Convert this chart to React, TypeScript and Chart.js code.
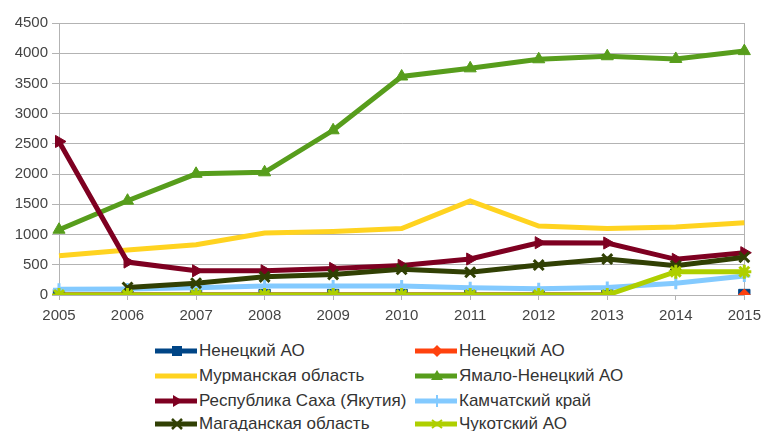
import React, { useEffect, useRef } from "react";
import { Chart, registerables } from "chart.js";

Chart.register(...registerables);

const years = ["2005", "2006", "2007", "2008", "2009", "2010", "2011", "2012", "2013", "2014", "2015"];
const yTicks = [0, 500, 1000, 1500, 2000, 2500, 3000, 3500, 4000, 4500];

const nenetsky = [0, 0, 0, 0, 0, 0, 0, 0, 0, null, 0];
const nenetsky2 = [0, 0, 0, 0, 0, 0, 0, 0, 0, null, 0];
const murmansk = [650, 745, 830, 1025, 1050, 1100, 1555, 1140, 1100, 1125, 1195];
const yamal = [1080, 1560, 2005, 2030, 2725, 3615, 3750, 3900, 3950, 3905, 4035];
const sakha = [2540, 545, 400, 400, 440, 490, 595, 865, 860, 590, 700];
const kamchatka = [95, 100, 120, 150, 150, 150, 120, 105, 125, 195, 315];
const magadan = [null, 125, 195, 300, 340, 425, 375, 495, 595, 485, 625];
const chukotka = [0, 0, 0, 0, 0, 0, 0, 0, 0, 385, 385];

const names = [
  "Ненецкий АО",
  "Ненецкий АО",
  "Мурманская область",
  "Ямало-Ненецкий АО",
  "Республика Саха (Якутия)",
  "Камчатский край",
  "Магаданская область",
  "Чукотский АО",
];
const colors = ["#004586", "#ff420e", "#ffd320", "#579d1c", "#7e0021", "#83caff", "#314004", "#aecf00"];
const seriesData = [nenetsky, nenetsky2, murmansk, yamal, sakha, kamchatka, magadan, chukotka];
const styles: any[] = ["rect", "rectRot", false, "triangle", "triangle", "cross", "crossRot", "star"];
const rotations = [0, 0, 0, 0, 90, 0, 0, 0];
const radii = [8, 4, 0, 7, 7, 6, 7, 7];

function Marker({ i }: { i: number }) {
  const c = colors[i];
  const cx = 22, cy = 7;
  switch (i) {
    case 0:
      return <rect x={cx - 5} y={cy - 5} width={10} height={10} fill={c} />;
    case 1:
      return <polygon points={`${cx},${cy - 6} ${cx + 6},${cy} ${cx},${cy + 6} ${cx - 6},${cy}`} fill={c} />;
    case 3:
      return <polygon points={`${cx},${cy - 6} ${cx + 6},${cy + 4} ${cx - 6},${cy + 4}`} fill={c} />;
    case 4:
      return <polygon points={`${cx + 6},${cy} ${cx - 4},${cy - 6} ${cx - 4},${cy + 6}`} fill={c} />;
    case 5:
      return <path d={`M${cx} ${cy - 6} V${cy + 6}`} stroke={c} strokeWidth={2} />;
    case 6:
      return <path d={`M${cx - 5} ${cy - 5} L${cx + 5} ${cy + 5} M${cx + 5} ${cy - 5} L${cx - 5} ${cy + 5}`} stroke={c} strokeWidth={2.5} />;
    case 7:
      return <path d={`M${cx - 5} ${cy - 4} L${cx + 5} ${cy + 4} M${cx + 5} ${cy - 4} L${cx - 5} ${cy + 4}`} stroke={c} strokeWidth={2} />;
    default:
      return null;
  }
}

export default function App() {
  const ref = useRef<HTMLCanvasElement | null>(null);

  useEffect(() => {
    document.body.style.margin = "0";
    const gray = "#b3b3b3";
    const chart = new Chart(ref.current as HTMLCanvasElement, {
      type: "line",
      data: {
        labels: years,
        datasets: seriesData.map((d, i) => ({
          label: names[i],
          data: d,
          borderColor: colors[i],
          backgroundColor: colors[i],
          borderWidth: 5,
          pointStyle: styles[i],
          pointRadius: i === 1 ? (ctx: any) => (ctx.dataIndex === years.length - 1 ? 6 : 4) : radii[i],
          pointRotation: rotations[i],
          pointBorderWidth: i === 5 || i === 6 || i === 7 ? 3 : 1,
          pointBorderColor: colors[i],
          tension: 0,
          spanGaps: false,
          order: 7 - i,
        })),
      },
      options: {
        animation: false,
        responsive: false,
        maintainAspectRatio: false,
        layout: { padding: { top: 23, right: 19, left: 0, bottom: 0 } },
        plugins: { legend: { display: false }, tooltip: { enabled: false } },
        scales: {
          x: {
            offset: false,
            afterFit: (s: any) => { s.height = 35; },
            grid: {
              color: (ctx: any) => (ctx.index === years.length - 1 ? gray : "rgba(0,0,0,0)"),
              tickColor: gray,
              tickLength: 5,
              lineWidth: 1,
            },
            border: { display: true, color: gray },
            ticks: { color: "#444", font: { family: "Liberation Sans", size: 15 }, padding: 7, maxRotation: 0 },
          },
          y: {
            min: 0,
            max: 4500,
            afterFit: (s: any) => { s.width = 59; },
            afterBuildTicks: (s: any) => { s.ticks = yTicks.map((v) => ({ value: v })); },
            grid: { color: gray, tickLength: 7, lineWidth: 1 },
            border: { display: true, color: gray },
            ticks: {
              color: "#444",
              font: { family: "Liberation Sans", size: 15 },
              padding: 4,
              callback: (v: any) => String(v),
            },
          },
        },
      },
    });
    return () => chart.destroy();
  }, []);

  const legendPos = [
    [155, 351], [415, 351],
    [155, 376], [415, 376],
    [155, 401], [415, 401],
    [155, 424], [415, 424],
  ];

  return (
    <div style={{ position: "relative", width: 768, height: 431, background: "#fff", overflow: "hidden" }}>
      <canvas ref={ref} width={768} height={330} style={{ position: "absolute", left: 0, top: 0, width: 768, height: 330 }} />
      {names.map((n, i) => (
        <div
          key={i}
          style={{
            position: "absolute",
            left: legendPos[i][0],
            top: legendPos[i][1] - 10,
            height: 20,
            display: "flex",
            alignItems: "center",
            fontFamily: "Liberation Sans",
            fontSize: 17,
            color: "#333",
            whiteSpace: "nowrap",
          }}
        >
          <svg width={42} height={14} style={{ marginRight: 2 }}>
            <line x1={0} y1={7} x2={42} y2={7} stroke={colors[i]} strokeWidth={5} />
            <Marker i={i} />
          </svg>
          <span>{n}</span>
        </div>
      ))}
    </div>
  );
}
